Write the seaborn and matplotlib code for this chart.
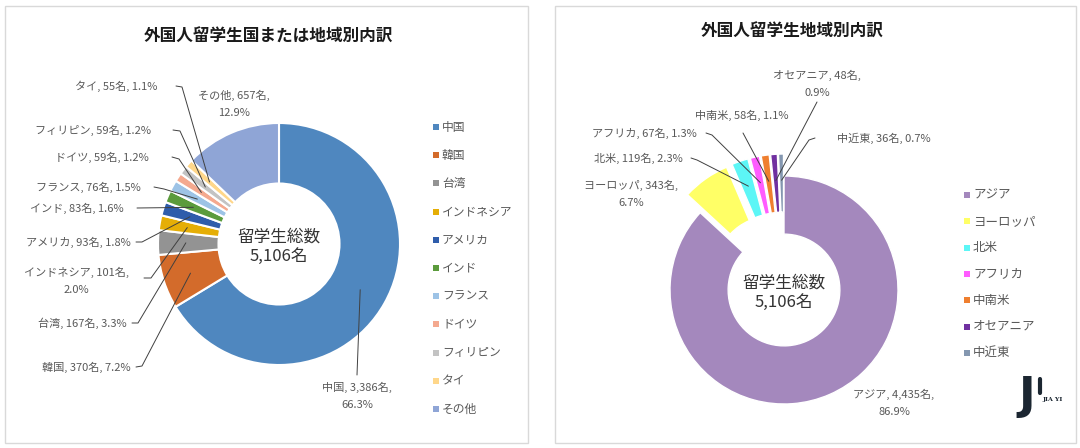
import numpy as np
import matplotlib.pyplot as plt
import seaborn as sns
from matplotlib.patches import Rectangle

sns.set_style("white")
plt.rcParams['font.family'] = ['Noto Sans CJK JP', 'DejaVu Sans']

W, H = 1080, 448

# 国または地域別
countries = ['中国', '韓国', '台湾', 'インドネシア', 'アメリカ', 'インド',
             'フランス', 'ドイツ', 'フィリピン', 'タイ', 'その他']
country_counts = [3386, 370, 167, 101, 93, 83, 76, 59, 59, 55, 657]
country_colors = ['#4F87BF', '#D36B2B', '#939393', '#E5AE06', '#2F5DAB', '#5B9B3C',
                  '#9DC3E6', '#F4A98F', '#C3C3C3', '#FFD78A', '#8FA5D6']

# 地域別
regions = ['アジア', 'ヨーロッパ', '北米', 'アフリカ', '中南米', 'オセアニア', '中近東']
region_counts = [4435, 343, 119, 67, 58, 48, 36]
region_colors = ['#A488BD', '#FFFF66', '#5CF6F6', '#FF5CFF', '#EF7F2F', '#7030A0', '#8497B0']

# ラベルの配置 (x, y, ha) ピクセル座標
left_pos = [(357, 396, 'center'), (131, 367, 'right'), (127, 323, 'right'),
            (76, 281, 'center'), (131, 242, 'right'), (124, 208, 'right'),
            (141, 187, 'right'), (149, 157, 'right'), (151, 130, 'right'),
            (157, 86, 'right'), (234, 104, 'center')]
left_leaders = [[(357, 375)], [(136, 367), (142, 366)], [(132, 323), (138, 323)],
                [(144, 278), (151, 278)], [(136, 242), (142, 242)], [(137, 208)],
                [(154, 187), (164, 189)], [(172, 157), (179, 159)],
                [(173, 130), (180, 131)], [(176, 86), (182, 87)], None]
left_wrap = ['中国', 'インドネシア', 'その他']

right_pos = [(894, 403, 'center'), (631, 194, 'center'), (683, 158, 'right'),
             (697, 133, 'right'), (742, 115, 'center'), (817, 84, 'center'),
             (837, 138, 'left')]
right_leaders = [None, None, [(691, 158), (697, 160)], [(706, 133), (712, 135)],
                 [(743, 133)], [(817, 102)], [(815, 138), (809, 140)]]
right_wrap = ['アジア', 'ヨーロッパ', 'オセアニア']


def Y(y):
    return H - y


def make_labels(names, counts, wrap):
    total = sum(counts)
    out = []
    for name, n in zip(names, counts):
        sep = ',\n' if name in wrap else ', '
        out.append(f"{name}, {n:,}名{sep}{n / total * 100:.1f}%")
    return out


def draw_labels(ax, wedges, texts, pos, leaders, rf=0.77):
    for w, txt, (x, y, ha), ld in zip(wedges, texts, pos, leaders):
        ax.text(x, Y(y), txt, ha=ha, va='center', fontsize=8, color='#595959',
                linespacing=1.85, multialignment='center')
        if ld:
            t = np.deg2rad((w.theta1 + w.theta2) / 2)
            px = w.center[0] + rf * w.r * np.cos(t)
            py = w.center[1] + rf * w.r * np.sin(t)
            ax.plot([p[0] for p in ld] + [px], [Y(p[1]) for p in ld] + [py],
                    color='#404040', lw=0.7)


def draw_legend(ax, names, colors, x, y0, step, size, ms):
    for i, (name, c) in enumerate(zip(names, colors)):
        y = Y(y0 + i * step)
        ax.scatter([x], [y], marker='s', s=ms, color=c, linewidths=0)
        ax.text(x + 6, y, name, ha='left', va='center', fontsize=size, color='#595959')


fig = plt.figure(figsize=(10.8, 4.48), dpi=100)
ax = fig.add_axes([0, 0, 1, 1])

# 左: 国または地域別
R1 = 121
w1, _ = ax.pie(country_counts, colors=sns.color_palette(country_colors), startangle=90,
               counterclock=False, radius=R1, center=(279, Y(244)),
               wedgeprops=dict(width=R1 * 0.5, edgecolor='white', linewidth=1.5))
draw_labels(ax, w1, make_labels(countries, country_counts, left_wrap), left_pos, left_leaders)

# 右: 地域別 (アジア以外を切り出し)
R2 = 114
explode = [0] + [22] * (len(region_counts) - 1)
w2, _ = ax.pie(region_counts, colors=sns.color_palette(region_colors), startangle=90,
               counterclock=False, radius=R2, center=(784, Y(290)), explode=explode,
               wedgeprops=dict(width=R2 * 0.51, edgecolor='white', linewidth=1.0))
draw_labels(ax, w2, make_labels(regions, region_counts, right_wrap), right_pos, right_leaders)

ax.text(279, Y(247), f"留学生総数\n{sum(country_counts):,}名", ha='center', va='center',
        fontsize=12, color='#333333', linespacing=1.2)
ax.text(784, Y(293), f"留学生総数\n{sum(region_counts):,}名", ha='center', va='center',
        fontsize=12, color='#333333', linespacing=1.2)

ax.text(268, Y(37), '外国人留学生国または地域別内訳', ha='center', va='center',
        fontsize=12, fontweight='bold', color='#1A1A1A')
ax.text(792, Y(32), '外国人留学生地域別内訳', ha='center', va='center',
        fontsize=12, fontweight='bold', color='#1A1A1A')

draw_legend(ax, countries, country_colors, 436, 127, 28.2, 8.5, 14)
draw_legend(ax, regions, region_colors, 967, 195, 26.3, 9, 20)

# 枠
ax.add_patch(Rectangle((4.5, Y(443)), 523, 437, fill=False, ec='#D9D9D9', lw=1))
ax.add_patch(Rectangle((554.5, Y(443)), 521, 437, fill=False, ec='#D9D9D9', lw=1))

# ロゴ
ax.text(1027, Y(396), 'J', ha='center', va='center', fontsize=32, fontweight='bold',
        color='#1B2631', family='DejaVu Sans')
ax.plot([1040, 1040], [Y(379), Y(393)], color='#1B2631', lw=3)
ax.text(1053, Y(399), 'JIA YI', ha='center', va='center', fontsize=4.5,
        fontweight='bold', color='#1B2631', family='DejaVu Serif')

ax.set_xlim(0, W)
ax.set_ylim(0, H)
ax.set_aspect('auto')
ax.axis('off')

fig.savefig('out.png', dpi=100)
